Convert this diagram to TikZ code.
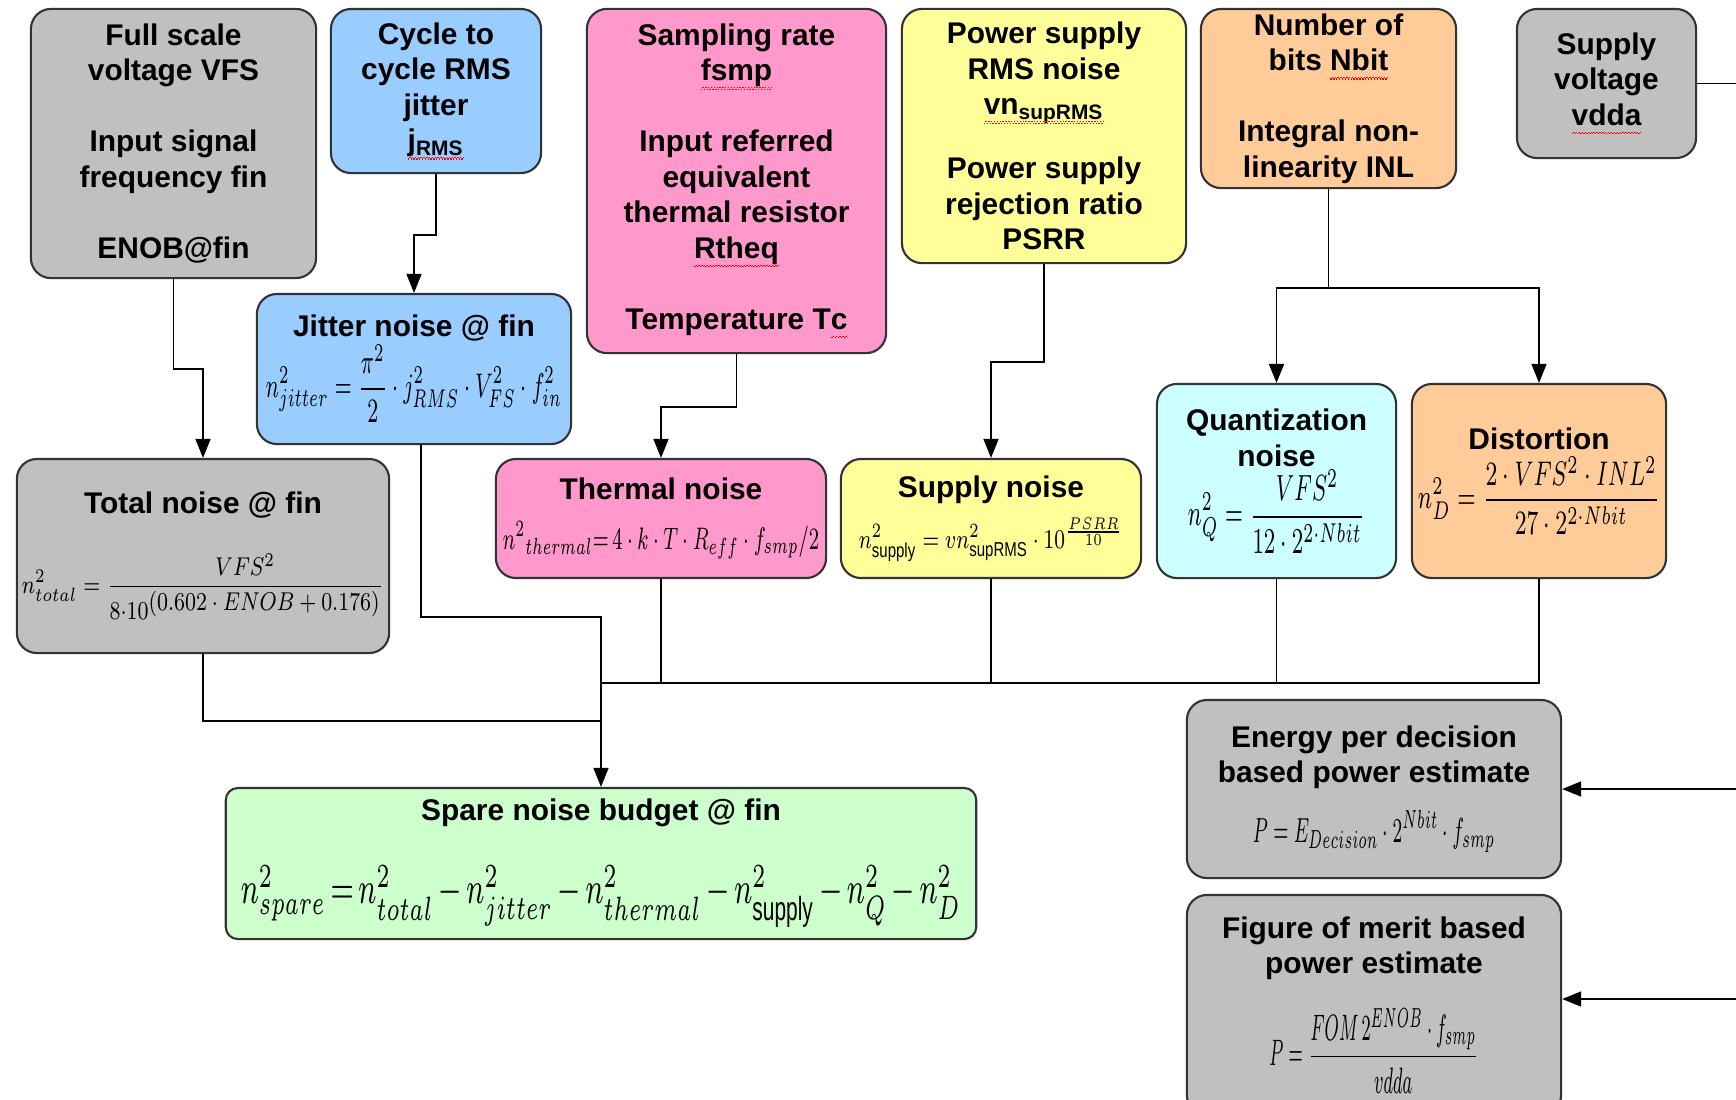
\documentclass[tikz,border=0pt]{standalone}
\usepackage{fontspec}
\usepackage{graphicx}
\setmainfont{Liberation Sans}
\usetikzlibrary{arrows.meta}
\definecolor{cgray}{HTML}{C0C0C0}
\definecolor{cblue}{HTML}{99CCFF}
\definecolor{cpink}{HTML}{FF99CC}
\definecolor{cyellow}{HTML}{FFFF99}
\definecolor{corange}{HTML}{FFCC99}
\definecolor{ccyan}{HTML}{CCFFFF}
\definecolor{cgreen}{HTML}{CCFFCC}
\newdimen\sqw
\newcommand\sq[1]{\setbox0\hbox{#1}\sqw=\wd0\leavevmode\rlap{\copy0}%
  {\color{red}\xleaders\hbox{\rule[-2.5pt]{0.4pt}{0.3pt}\rule[-2.05pt]{0.4pt}{0.3pt}}\hskip\sqw}}
\newcommand\fm[3]{\resizebox*{#1}{#2}{$\displaystyle #3$}}
\begin{document}
\begin{tikzpicture}[x=0.01cm,y=-0.01cm,
  box/.style={draw=black!80,line width=0.6pt,rounded corners=0.2cm,align=center,inner sep=0pt,
    font=\bfseries\fontsize{8.5}{10.1}\selectfont},
  conn/.style={line width=0.45pt},
  arr/.style={conn,-{Triangle[length=0.19cm,width=0.15cm]}}]
\useasboundingbox (0,0) rectangle (1736,1099);
\clip (0,0) rectangle (1736,1099);
\fill[white] (0,0) rectangle (1736,1099);

\node[box,fill=cgray,minimum width=2.85cm,minimum height=2.69cm] (fs) at (173.5,143.5)
  {Full scale\\voltage VFS\\[10.1pt]Input signal\\frequency fin\\[10.1pt]ENOB@fin};
\node[box,fill=cblue,minimum width=2.10cm,minimum height=1.64cm] (cyc) at (436,91)
  {Cycle to\\cycle RMS\\jitter\\\sq{j\textsubscript{RMS}}};
\node[box,fill=cpink,minimum width=2.99cm,minimum height=3.44cm] (samp) at (736.5,181)
  {Sampling rate\\\sq{fsmp}\\[10.1pt]Input referred\\equivalent\\thermal resistor\\\sq{Rtheq}\\[10.1pt]Temperature T\sq{c}};
\node[box,fill=cyellow,minimum width=2.84cm,minimum height=2.54cm] (pwr) at (1044,136)
  {Power supply\\RMS noise\\\sq{vn\textsubscript{supRMS}}\\[8pt]Power supply\\rejection ratio\\PSRR};
\node[box,fill=corange,minimum width=2.55cm,minimum height=1.79cm] (nbit) at (1328.5,98.5)
  {Number of\\bits \sq{Nbit}\\[10.1pt]Integral non-\\linearity INL};
\node[box,fill=cgray,minimum width=1.79cm,minimum height=1.49cm] (sv) at (1606.5,83.5)
  {Supply\\voltage\\\sq{vdda}};

\node[box,fill=cblue,minimum width=3.14cm,minimum height=1.50cm] (jit) at (414,369)
  {Jitter noise @ fin\\\fm{2.96cm}{0.78cm}{n^2_{jitter}=\frac{\pi^2}{2}\cdot j^2_{RMS}\cdot V^2_{FS}\cdot f^2_{in}}};
\node[box,fill=cgray,minimum width=3.72cm,minimum height=1.94cm] (tot) at (203,556)
  {Total noise @ fin\\[9pt]\fm{3.62cm}{0.66cm}{n^{2}_{total}=\frac{VFS^2}{8{\cdot}10^{\textstyle(0.602\cdot ENOB+0.176)}}}};
\node[box,fill=cpink,minimum width=3.30cm,minimum height=1.19cm] (th) at (661,518.5)
  {Thermal noise\\[4pt]\fm{3.16cm}{0.38cm}{n^2{}_{thermal}{=}\,4\cdot k\cdot T\cdot R_{eff}\cdot f_{smp}/2}};
\node[box,fill=cyellow,minimum width=3.00cm,minimum height=1.19cm] (sup) at (991,518.5)
  {Supply noise\\[3pt]\fm{2.64cm}{0.44cm}{n^2_{\mathrm{supply}}=vn^2_{\mathrm{supRMS}}\cdot 10^{\frac{PSRR}{10}}}};
\node[box,fill=ccyan,minimum width=2.39cm,minimum height=1.94cm] (qn) at (1276.5,481)
  {Quantization\\noise\\\fm{1.77cm}{0.83cm}{n^2_Q=\frac{VFS^2}{12\cdot2^{2\cdot Nbit}}}};
\node[box,fill=corange,minimum width=2.54cm,minimum height=1.94cm] (dist) at (1539,481)
  {Distortion\\[1pt]\fm{2.42cm}{0.78cm}{n^2_D=\frac{2\cdot VFS^2\cdot INL^2}{27\cdot 2^{2\cdot Nbit}}}};

\node[box,fill=cgreen,rounded corners=0.12cm,minimum width=7.50cm,minimum height=1.51cm] (sp) at (601,863.5)
  {Spare noise budget @ fin\\[10pt]\resizebox*{7.2cm}{0.62cm}{\hbox to 7.2cm{$n^2_{spare}$\hfil$=$\hfil$n^2_{total}$\hfil$-$\hfil$n^2_{jitter}$\hfil$-$\hfil$n^2_{thermal}$\hfil$-$\hfil$n^2_{\mathrm{supply}}$\hfil$-$\hfil$n^2_Q$\hfil$-$\hfil$n^2_D$}}};

\node[box,fill=cgray,minimum width=3.74cm,minimum height=1.78cm] (en) at (1374,789)
  {Energy per decision\\based power estimate\\[5pt]\fm{2.42cm}{0.42cm}{P=E_{Decision}\cdot 2^{Nbit}\cdot f_{smp}}};
\node[box,fill=cgray,minimum width=3.74cm,minimum height=2.20cm] (fom) at (1374,1005)
  {Figure of merit based\\power estimate\\[7pt]\fm{2.09cm}{0.85cm}{P=\frac{FOM\,2^{ENOB}\cdot f_{smp}}{vdda}}};

\draw[arr] (fs.south) -- ++(0,90) -| (tot.north);
\draw[arr] (cyc.south) -- ++(0,61) -| (jit.north);
\draw[arr] (samp.south) -- ++(0,53) -| (th.north);
\draw[arr] (pwr.south) -- ++(0,98) -| (sup.north);
\draw[arr] (nbit.south) -- ++(0,99) -| (qn.north);
\draw[arr] (nbit.south) -- ++(0,99) -| (dist.north);

\coordinate (jn) at (601,617);
\coordinate (tn) at (601,721);
\coordinate (bus) at (601,683);
\draw[arr] ([xshift=0.07cm]jit.south) |- (jn) -- (sp.north);
\draw[conn] (tot.south) |- (tn);
\draw[conn] (bus) -| (dist.south);
\draw[conn] (th.south) -- (th.south |- bus);
\draw[conn] (sup.south) -- (sup.south |- bus);
\draw[conn] (qn.south) -- (qn.south |- bus);

\coordinate (svo) at (1736,83.5);
\draw[conn] (sv.east) -- (svo);
\coordinate (ein) at (1736,789);
\draw[arr] (ein) -- (en.east);
\coordinate (fin) at (1736,999);
\draw[arr] (fin) -- (fin -| fom.east);
\end{tikzpicture}
\end{document}
